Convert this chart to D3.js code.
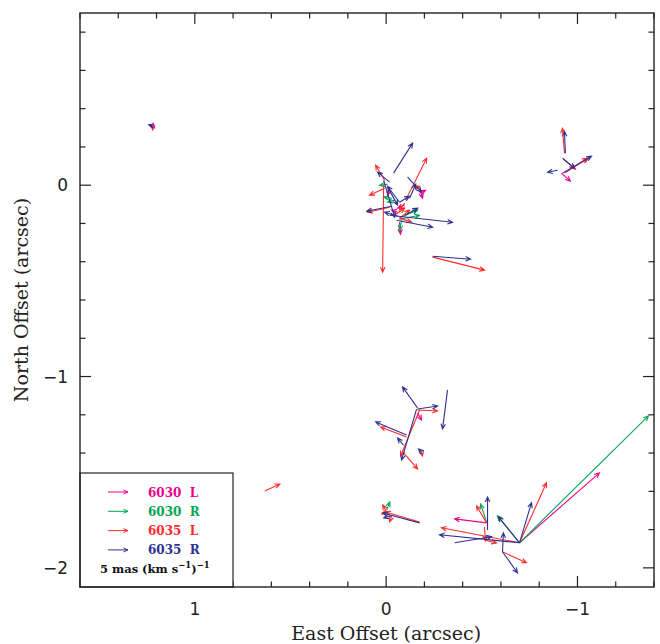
<!DOCTYPE html>
<html>
<head>
<meta charset="utf-8">
<script src="https://cdn.jsdelivr.net/npm/d3@7"></script>
<style>
  body { margin: 0; background: #fff; }
  svg { display: block; }
</style>
</head>
<body>
<div id="wrapper"></div>
<script>
// each arrow: [east offset (arcsec), north offset (arcsec), vector east, vector north] ; vector in mas (km s^-1)^-1
const series6030L = [
  [1.22, 0.31, -0.5, -0.5],
  [-0.175, -0.016, -0.75, -2.5],
  [-0.018, -0.016, 0.5, -1.75],
  [-0.070, -0.193, -0.25, -3.0],
  [-0.097, -0.104, 1.75, -0.75],
  [-0.175, -0.042, -1.5, 0.75],
  [-0.060, -0.141, 1.5, 0.5],
  [-0.932, 0.063, -5.75, 3.75],
  [-0.916, 0.063, -2.25, -2.0],
  [-0.164, -1.191, -1.0, -1.75],
  [-0.525, -1.765, 8.0, 1.0],
  [-0.697, -1.869, -20.0, 17.5]
]
const series6030R = [
  [-0.008, 0.005, 2.0, -0.25],
  [-0.070, -0.172, -4.5, 2.0],
  [-0.070, -0.178, -5.0, 1.0],
  [-0.044, -0.078, 1.75, -0.5],
  [-0.029, -0.068, 2.0, 0.25],
  [-0.081, -0.183, 0.5, -2.5],
  [-0.003, -1.697, -0.75, 2.0],
  [-0.525, -1.760, 1.5, 4.5],
  [-0.697, -1.869, -32.25, 31.75],
  [-0.697, -1.869, 5.5, 6.75]
]
const series6035L = [
  [1.22, 0.31, 0.0, -1.0],
  [-0.102, -0.078, -5.25, 10.5],
  [0.013, 0.0, 0.25, -21.75],
  [0.008, 0.026, 2.25, 3.75],
  [0.008, -0.016, 3.75, -1.75],
  [-0.018, -0.115, 5.5, -1.25],
  [-0.070, -0.172, -2.5, 2.0],
  [-0.070, -0.172, -3.0, -1.0],
  [-0.044, -0.157, -2.5, 1.75],
  [-0.149, -0.016, -1.25, 0.5],
  [-0.097, -0.094, 1.25, -1.75],
  [-0.243, -0.376, -13.0, -3.25],
  [-0.932, 0.167, 0.5, 6.25],
  [-0.932, 0.131, -2.75, -2.25],
  [-0.937, 0.068, -5.75, 3.5],
  [-0.164, -1.175, -5.0, -0.25],
  [-0.175, -1.175, 4.75, -11.5],
  [-0.107, -1.316, 6.5, 2.5],
  [-0.086, -1.394, -3.75, -4.25],
  [-0.185, -1.394, -0.25, -1.0],
  [-0.003, -1.708, 1.0, 1.75],
  [-0.003, -1.708, 1.25, -0.5],
  [-0.175, -1.760, 8.5, 2.5],
  [-0.029, -1.728, 0.5, -1.5],
  [-0.525, -1.765, 2.5, 4.25],
  [-0.514, -1.786, -0.25, -3.5],
  [-0.514, -1.854, -3.0, -0.75],
  [-0.697, -1.869, -6.75, 15.0],
  [-0.697, -1.869, 19.5, 3.75],
  [-0.608, -1.916, -6.0, -2.75],
  [0.634, -1.598, -3.75, 1.75]
]
const series6035R = [
  [1.22, 0.31, 1.0, 0.3],
  [-0.039, 0.063, -4.75, 7.5],
  [-0.018, 0.016, 3.0, 2.5],
  [-0.029, -0.110, 6.25, -1.25],
  [-0.018, -0.157, -15.75, -1.75],
  [-0.055, -0.183, -9.0, -1.75],
  [-0.112, 0.042, -3.5, -3.75],
  [-0.070, -0.089, 3.0, 4.0],
  [-0.008, -0.010, -2.5, -4.5],
  [-0.123, -0.068, -1.5, 3.5],
  [0.013, 0.026, -2.75, -9.25],
  [-0.070, -0.089, -2.5, 1.5],
  [-0.097, -0.157, -3.25, 1.75],
  [-0.060, -0.162, 3.25, 1.0],
  [-0.243, -0.371, -9.5, -0.75],
  [-0.937, 0.167, 0.25, 5.5],
  [-0.922, 0.063, -7.25, 4.25],
  [-0.922, 0.141, -3.0, -2.5],
  [-0.896, 0.078, 2.5, -0.5],
  [-0.164, -1.164, 3.75, 5.25],
  [-0.164, -1.170, -5.0, 0.75],
  [-0.321, -1.070, 1.25, -9.75],
  [-0.159, -1.170, 3.75, -12.75],
  [-0.107, -1.305, 7.75, 3.25],
  [-0.091, -1.358, 1.5, 1.75],
  [-0.185, -1.394, 0.75, 0.75],
  [-0.175, -1.765, 9.25, 2.5],
  [-0.029, -1.728, 2.0, -0.5],
  [-0.530, -1.802, 0.0, 8.25],
  [-0.697, -1.869, -3.0, 10.0],
  [-0.697, -1.869, 5.25, 6.5],
  [-0.697, -1.869, 20.0, 2.0],
  [-0.358, -1.869, -9.25, 1.5],
  [-0.608, -1.916, -0.25, 4.75],
  [-0.608, -1.916, -3.75, -5.25]
]

const seriesNames = ["6030 L", "6030 R", "6035 L", "6035 R"]
const seriesColors = ["#ec008c", "#00a651", "#ff2b2b", "#2e3192"]
const xTickLabels = [1, 0, -1]
const yTickLabels = [0, -1, -2]
const legendLength = 5            // mas (km s^-1)^-1
const arcsecPerUnit = 0.0209      // plotted arrow length, arcsec per mas (km s^-1)^-1

const dimensions = {
  width: 660,
  height: 644,
  margin: { top: 13, right: 6, bottom: 57, left: 80 },
}
dimensions.boundedWidth = dimensions.width - dimensions.margin.left - dimensions.margin.right
dimensions.boundedHeight = dimensions.height - dimensions.margin.top - dimensions.margin.bottom

const svg = d3.select("#wrapper").append("svg")
  .attr("width", dimensions.width)
  .attr("height", dimensions.height)

const bounds = svg.append("g")
  .attr("transform", `translate(${dimensions.margin.left},${dimensions.margin.top})`)

const xScale = d3.scaleLinear().domain([1.6, -1.4]).range([0, dimensions.boundedWidth])
const yScale = d3.scaleLinear().domain([-2.1, 0.9]).range([dimensions.boundedHeight, 0])

// arrow path: shaft plus open head
function arrowPath(x0, y0, x1, y1, head = 5.5) {
  const ang = Math.atan2(y1 - y0, x1 - x0)
  const a = 0.42
  const hx1 = x1 - head * Math.cos(ang - a), hy1 = y1 - head * Math.sin(ang - a)
  const hx2 = x1 - head * Math.cos(ang + a), hy2 = y1 - head * Math.sin(ang + a)
  return `M${x0},${y0}L${x1},${y1}M${hx1},${hy1}L${x1},${y1}L${hx2},${hy2}`
}

const allSeries = [series6030L, series6030R, series6035L, series6035R]
allSeries.forEach((data, i) => {
  bounds.append("g").selectAll("path")
    .data(data)
    .join("path")
      .attr("d", d => arrowPath(
        xScale(d[0]), yScale(d[1]),
        xScale(d[0] + d[2] * arcsecPerUnit), yScale(d[1] + d[3] * arcsecPerUnit)))
      .attr("fill", "none")
      .attr("stroke", seriesColors[i])
      .attr("stroke-width", 1.1)
      .attr("stroke-linejoin", "miter")
})

// ticks on all four sides, inward
const minorX = d3.range(-1.4, 1.6001, 0.2).map(v => +v.toFixed(1))
const minorY = d3.range(-2.0, 0.9001, 0.2).map(v => +v.toFixed(1))
const isMajor = v => Math.abs(v - Math.round(v)) < 1e-6
const tickG = bounds.append("g").attr("stroke", "#222").attr("stroke-width", 1.2)
minorX.forEach(v => {
  const len = isMajor(v) ? 11 : 5.5
  const x = xScale(v)
  tickG.append("line").attr("x1", x).attr("x2", x).attr("y1", dimensions.boundedHeight).attr("y2", dimensions.boundedHeight - len)
  tickG.append("line").attr("x1", x).attr("x2", x).attr("y1", 0).attr("y2", len)
})
minorY.forEach(v => {
  const len = isMajor(v) ? 11 : 5.5
  const y = yScale(v)
  tickG.append("line").attr("x1", 0).attr("x2", len).attr("y1", y).attr("y2", y)
  tickG.append("line").attr("x1", dimensions.boundedWidth).attr("x2", dimensions.boundedWidth - len).attr("y1", y).attr("y2", y)
})

const fmt = v => v < 0 ? "\u2212" + Math.abs(v) : "" + v
bounds.append("g").selectAll("text")
  .data(xTickLabels)
  .join("text")
    .attr("x", d => xScale(d))
    .attr("y", dimensions.boundedHeight + 28)
    .attr("text-anchor", "middle")
    .style("font-family", "DejaVu Sans")
    .style("font-size", "17px")
    .attr("fill", "#222")
    .text(fmt)
bounds.append("g").selectAll("text")
  .data(yTickLabels)
  .join("text")
    .attr("x", -12)
    .attr("y", d => yScale(d) + 6)
    .attr("text-anchor", "end")
    .style("font-family", "DejaVu Sans")
    .style("font-size", "17px")
    .attr("fill", "#222")
    .text(fmt)

// legend box
const legendGroup = bounds.append("g")
const legendW = 153, legendH = 114
legendGroup.append("rect")
  .attr("x", 0).attr("y", dimensions.boundedHeight - legendH)
  .attr("width", legendW).attr("height", legendH)
  .attr("fill", "#fff").attr("stroke", "#222").attr("stroke-width", 1.2)

const legendArrowPx = Math.abs(xScale(legendLength * arcsecPerUnit) - xScale(0))
seriesNames.forEach((name, i) => {
  const y = dimensions.boundedHeight - legendH + 19 + i * 19.3
  legendGroup.append("path")
    .attr("d", arrowPath(28, y, 28 + legendArrowPx, y, 5))
    .attr("fill", "none")
    .attr("stroke", seriesColors[i])
    .attr("stroke-width", 1)
  legendGroup.append("text")
    .attr("x", 68).attr("y", y + 4.5)
    .style("font-family", "DejaVu Serif")
    .style("font-size", "12px")
    .style("font-weight", "bold")
    .attr("fill", seriesColors[i])
    .attr("xml:space", "preserve")
    .text(name.replace(" ", "  "))
})
const scaleText = legendGroup.append("text")
  .attr("x", 20).attr("y", dimensions.boundedHeight - 14)
  .style("font-family", "DejaVu Serif")
  .style("font-size", "11.5px")
  .style("font-weight", "bold")
  .attr("fill", "#111")
scaleText.append("tspan").text(`${legendLength} mas (km s`)
scaleText.append("tspan").attr("dy", -5).style("font-size", "8.5px").text("\u22121")
scaleText.append("tspan").attr("dy", 5).text(")")
scaleText.append("tspan").attr("dy", -5).style("font-size", "8.5px").text("\u22121")

// frame
bounds.append("rect")
  .attr("width", dimensions.boundedWidth)
  .attr("height", dimensions.boundedHeight)
  .attr("fill", "none")
  .attr("stroke", "#222")
  .attr("stroke-width", 1.4)

// axis titles
svg.append("text")
  .attr("x", dimensions.margin.left + xScale(0))
  .attr("y", 640)
  .attr("text-anchor", "middle")
  .style("font-family", "DejaVu Serif")
  .style("font-size", "19px")
  .attr("fill", "#222")
  .text("East Offset (arcsec)")
svg.append("text")
  .attr("transform", `translate(28,${dimensions.margin.top + dimensions.boundedHeight / 2}) rotate(-90)`)
  .attr("text-anchor", "middle")
  .style("font-family", "DejaVu Serif")
  .style("font-size", "19px")
  .attr("fill", "#222")
  .text("North Offset (arcsec)")
</script>
</body>
</html>
